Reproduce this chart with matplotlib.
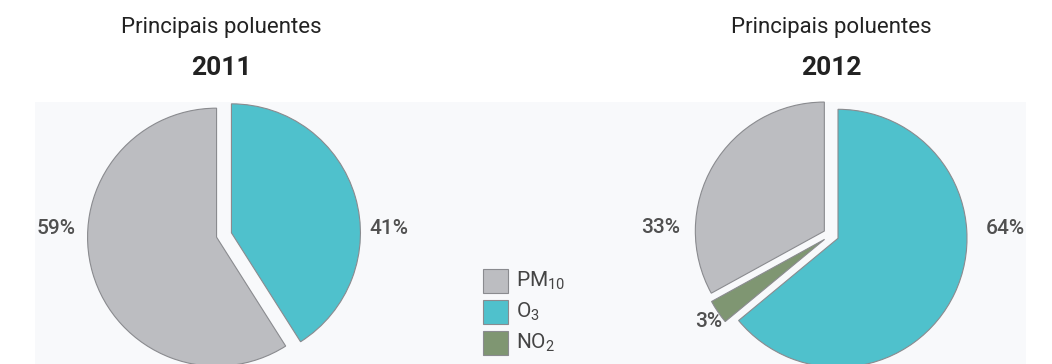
import matplotlib.pyplot as plt
from matplotlib.patches import Rectangle

plt.rcParams['font.family'] = ['Roboto', 'DejaVu Sans']
plt.rcParams['mathtext.default'] = 'regular'

# Data
categories = ['O3', 'NO2', 'PM10']
legend_labels = ['PM$_{10}$', 'O$_{3}$', 'NO$_{2}$']
values_2011 = [41, 0, 59]
values_2012 = [64, 3, 33]
labels_2011 = ['41%', '', '59%']
labels_2012 = ['64%', '3%', '33%']
years = ['2011', '2012']

colors = {'PM10': '#bcbdc1', 'O3': '#4fc1cc', 'NO2': '#7f9672'}
edge = '#8a8b8f'

W, H = 1052, 364
fig = plt.figure(figsize=(W / 100, H / 100), dpi=100)
fig.patch.set_facecolor('white')

# light panel behind the pies
fig.patches.append(Rectangle((35 / W, 0), (1026 - 35) / W, (364 - 102) / H,
                             transform=fig.transFigure, facecolor='#f8f9fb',
                             edgecolor='none', zorder=-5))

R = 129  # pie radius in pixels


def pie_axes(cx, cy):
    # axes spanning 3 radii, centred on (cx, cy) in pixel coords from top
    left = (cx - 1.5 * R) / W
    bottom = (H - cy - 1.5 * R) / H
    ax = fig.add_axes([left, bottom, 3 * R / W, 3 * R / H])
    ax.patch.set_visible(False)
    return ax


def draw_pie(ax, values, labels, label_pos):
    vals, cols, labs = [], [], []
    for c, v, l in zip(categories, values, labels):
        if v > 0:
            vals.append(v)
            cols.append(colors[c])
            labs.append(l)
    ax.pie(vals, colors=cols, startangle=90, counterclock=False,
           explode=[0.06] * len(vals), radius=1,
           wedgeprops=dict(edgecolor=edge, linewidth=0.8))
    ax.set_xlim(-1.5, 1.5)
    ax.set_ylim(-1.5, 1.5)
    ax.axis('off')
    for l, (x, y) in zip(labs, label_pos):
        ax.text(x, y, l, ha='center', va='center', fontsize=15,
                fontweight='medium', color='#505050')


ax1 = pie_axes(224, 235)
draw_pie(ax1, values_2011, labels_2011, [(1.28, 0.05), (-1.3, 0.05)])

ax2 = pie_axes(831, 235)
draw_pie(ax2, values_2012, labels_2012, [(1.35, 0.05), (-0.95, -0.67), (-1.32, 0.06)])

# titles
for cx, yr in [(221, years[0]), (831, years[1])]:
    fig.text(cx / W, 1 - 27 / H, 'Principais poluentes', ha='center', va='center',
             fontsize=16, color='#222222')
    fig.text(cx / W, 1 - 68 / H, yr, ha='center', va='center',
             fontsize=19, fontweight='bold', color='#222222')

# legend
for i, (c, lab) in enumerate(zip(['PM10', 'O3', 'NO2'], legend_labels)):
    y = 281 + 31 * i
    fig.patches.append(Rectangle((483 / W, 1 - (y + 12) / H), 25 / W, 24 / H,
                                 transform=fig.transFigure, facecolor=colors[c],
                                 edgecolor=edge, linewidth=0.8, zorder=3))
    fig.text(516 / W, 1 - y / H, lab, ha='left', va='center',
             fontsize=15, color='#444444')

fig.savefig('out.png', dpi=100)
